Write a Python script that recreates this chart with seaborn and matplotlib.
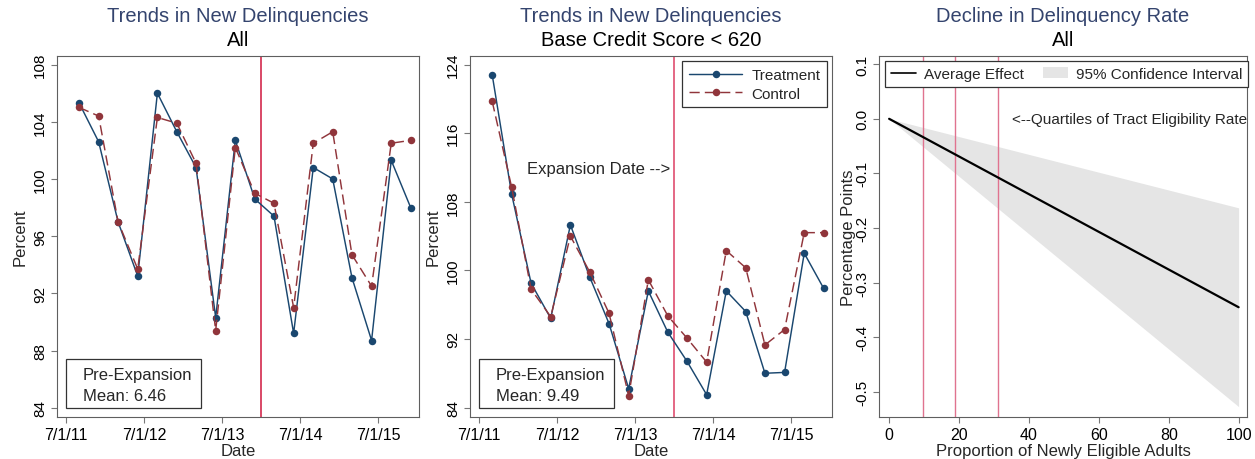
import matplotlib
matplotlib.use("Agg")
import matplotlib.pyplot as plt
import matplotlib.dates as mdates
from matplotlib.lines import Line2D
from matplotlib.patches import Patch, Rectangle
import numpy as np
import pandas as pd
import seaborn as sns

# ---------------------------------------------------------------- data
quarter_dates = ["2011-09-01", "2011-12-01", "2012-03-01", "2012-06-01",
                 "2012-09-01", "2012-12-01", "2013-03-01", "2013-06-01",
                 "2013-09-01", "2013-12-01", "2014-03-01", "2014-06-01",
                 "2014-09-01", "2014-12-01", "2015-03-01", "2015-06-01",
                 "2015-09-01", "2015-12-01"]

all_treatment = [105.3, 102.6, 97.0, 93.2, 106.0, 103.3, 100.8, 90.3, 102.7,
                 98.6, 97.4, 89.2, 100.8, 100.0, 93.1, 88.7, 101.3, 98.0]
all_control = [105.0, 104.4, 97.0, 93.7, 104.3, 103.9, 101.1, 89.4, 102.2,
               99.0, 98.3, 91.0, 102.5, 103.3, 94.7, 92.5, 102.5, 102.7]

low_treatment = [122.8, 108.9, 98.5, 94.4, 105.3, 99.2, 93.8, 86.2, 97.6,
                 92.8, 89.4, 85.5, 97.6, 95.2, 88.0, 88.1, 102.0, 97.9]
low_control = [119.7, 109.7, 97.8, 94.6, 104.0, 99.8, 95.0, 85.4, 98.9,
               94.7, 92.1, 89.3, 102.3, 100.3, 91.3, 93.1, 104.4, 104.4]

expansion_date = "2014-01-01"
date_ticks = ["2011-07-01", "2012-07-01", "2013-07-01", "2014-07-01", "2015-07-01"]
date_tick_labels = ["7/1/11", "7/1/12", "7/1/13", "7/1/14", "7/1/15"]

all_yticks = [84, 88, 92, 96, 100, 104, 108]
low_yticks = [84, 92, 100, 108, 116, 124]

pre_mean_all = "6.46"
pre_mean_low = "9.49"

# effect of eligibility share on delinquency rate
share_pts = [0, 100]
effect = [0.0, -0.345]
ci_low = [0.0, -0.527]
ci_high = [0.0, -0.163]
quartiles = [9.7, 18.8, 31.2]
share_ticks = [0, 20, 40, 60, 80, 100]
effect_ticks = [0.1, 0.0, -0.1, -0.2, -0.3, -0.4, -0.5]
effect_tick_labels = ["0.1", "0.0", "-0.1", "-0.2", "-0.3", "-0.4", "-0.5"]

# ---------------------------------------------------------------- style
sns.set_theme(style="ticks")
plt.rcParams["font.family"] = ["Liberation Sans", "DejaVu Sans"]
plt.rcParams["axes.unicode_minus"] = False

NAVY = "#1a476f"
MAROON = "#90353b"
TITLE = "#34446e"
SPINE = "#5f5f5f"
VLINE = "#d0163d"

W, H = 1255, 460
fig = plt.figure(figsize=(W / 100, H / 100), dpi=100)


def axes_px(left, top, right, bottom):
    return fig.add_axes([left / W, 1 - bottom / H, (right - left) / W, (bottom - top) / H])


def frame(ax):
    for s in ax.spines.values():
        s.set_visible(True)
        s.set_color(SPINE)
        s.set_linewidth(0.8)
    ax.tick_params(direction="out", length=4, width=0.8, color="#777777",
                   labelcolor="black", pad=3)
    ax.tick_params(axis="x", labelsize=11.5)
    ax.tick_params(axis="y", labelsize=11)
    ax.grid(False)


def titles(ax, main, sub):
    bb = ax.get_position()
    cx = (bb.x0 + bb.x1) / 2
    fig.text(cx, 1 - 21.7 / H, main, ha="center", va="baseline",
             fontsize=14.5, color=TITLE)
    fig.text(cx, 1 - 45.7 / H, sub, ha="center", va="baseline",
             fontsize=14.5, color="black")


def trend_panel(ax, treat, ctrl, yticks, ylim, mean_txt, vline_color):
    df = pd.DataFrame({"date": pd.to_datetime(quarter_dates),
                       "Treatment": treat, "Control": ctrl})
    ax.axvline(mdates.date2num(pd.Timestamp(expansion_date)), color=vline_color,
               linewidth=1.1, zorder=1)
    sns.lineplot(data=df, x="date", y="Treatment", ax=ax, color=NAVY,
                 marker="o", markersize=5.4, markeredgewidth=0, linewidth=1.05,
                 label="Treatment", zorder=3)
    sns.lineplot(data=df, x="date", y="Control", ax=ax, color=MAROON,
                 marker="o", markersize=5.4, markeredgewidth=0, linewidth=1.05,
                 dashes=(7, 3.5), label="Control", zorder=3)
    ax.set_xlim(mdates.date2num(pd.Timestamp("2011-05-20")),
                mdates.date2num(pd.Timestamp("2016-01-09")))
    ax.set_xticks([mdates.date2num(pd.Timestamp(d)) for d in date_ticks],
                  date_tick_labels)
    ax.set_yticks(yticks, [str(v) for v in yticks], rotation=90, va="center")
    ax.set_ylim(*ylim)
    frame(ax)
    ax.set_xlabel("Date", fontsize=12)
    ax.xaxis.set_label_coords(0.5, -0.072)
    ax.set_ylabel("Percent", fontsize=12, va="center")
    ax.yaxis.set_label_coords(-0.102, 0.5)
    # pre-expansion mean box
    ax.add_patch(Rectangle((0.025, 0.025), 0.373, 0.136, transform=ax.transAxes,
                           facecolor="white", edgecolor="#333333",
                           linewidth=0.9, zorder=5))
    ax.text(0.071, 0.119, "Pre-Expansion", transform=ax.transAxes,
            fontsize=12, va="center", ha="left", zorder=6)
    ax.text(0.071, 0.059, "Mean: " + mean_txt, transform=ax.transAxes,
            fontsize=12, va="center", ha="left", zorder=6)


# ---------------------------------------------------------------- panel 1
ax1 = axes_px(57, 57, 419, 418)
trend_panel(ax1, all_treatment, all_control, all_yticks, (83.35, 108.6),
            pre_mean_all, VLINE)
ax1.get_legend().remove()
titles(ax1, "Trends in New Delinquencies", "All")

# ---------------------------------------------------------------- panel 2
ax2 = axes_px(470, 57, 832, 418)
trend_panel(ax2, low_treatment, low_control, low_yticks, (82.9, 125.0),
            pre_mean_low, "#dc3f63")
ax2.yaxis.set_label_coords(-0.101, 0.5)
ax2.legend(loc="upper right", bbox_to_anchor=(0.987, 0.986), borderaxespad=0,
           fontsize=11, handlelength=3.5, handletextpad=0.6, labelspacing=0.3,
           frameon=True, fancybox=False, edgecolor="#333333", framealpha=1,
           borderpad=0.45)
ax2.get_legend().get_frame().set_linewidth(0.9)
ax2.annotate("Expansion Date -->",
             xy=(mdates.date2num(pd.Timestamp(expansion_date)), 0.687),
             xycoords=ax2.get_xaxis_transform(), xytext=(-3, 0),
             textcoords="offset points", ha="right", va="center", fontsize=12)
titles(ax2, "Trends in New Delinquencies", "Base Credit Score < 620")

# ---------------------------------------------------------------- panel 3
ax3 = axes_px(879, 57, 1247, 418)
ax3.fill_between(share_pts, ci_low, ci_high, color="#e5e5e5", linewidth=0, zorder=1)
for q in quartiles:
    ax3.axvline(q, color="#e0738f", linewidth=1.0, zorder=2)
eff_df = pd.DataFrame({"share": share_pts, "effect": effect})
sns.lineplot(data=eff_df, x="share", y="effect", ax=ax3, color="black",
             linewidth=1.6, zorder=3)
ax3.set_xlim(-2.9, 102.4)
ax3.set_ylim(-0.546, 0.115)
ax3.set_xticks(share_ticks, [str(v) for v in share_ticks])
ax3.set_yticks(effect_ticks, effect_tick_labels, rotation=90, va="center")
frame(ax3)
ax3.set_xlabel("Proportion of Newly Eligible Adults", fontsize=12)
ax3.xaxis.set_label_coords(0.5, -0.072)
ax3.set_ylabel("Percentage Points", fontsize=12, va="center")
ax3.yaxis.set_label_coords(-0.084, 0.5)
ax3.text(35.1, 0.0, "<--Quartiles of Tract Eligibility Rate", fontsize=11,
         ha="left", va="center")
handles = [Line2D([], [], color="black", linewidth=1.2),
           Patch(facecolor="#e5e5e5", edgecolor="none")]
leg = ax3.legend(handles, ["Average Effect", "95% Confidence Interval"],
                 loc="upper left", bbox_to_anchor=(0.016, 0.986), borderaxespad=0,
                 ncol=2, fontsize=11, handlelength=1.65, handletextpad=0.5,
                 columnspacing=1.25, frameon=True, fancybox=False,
                 edgecolor="#333333", framealpha=1, borderpad=0.4)
leg.get_frame().set_linewidth(0.9)
titles(ax3, "Decline in Delinquency Rate", "All")

fig.savefig("out.png", dpi=100)
